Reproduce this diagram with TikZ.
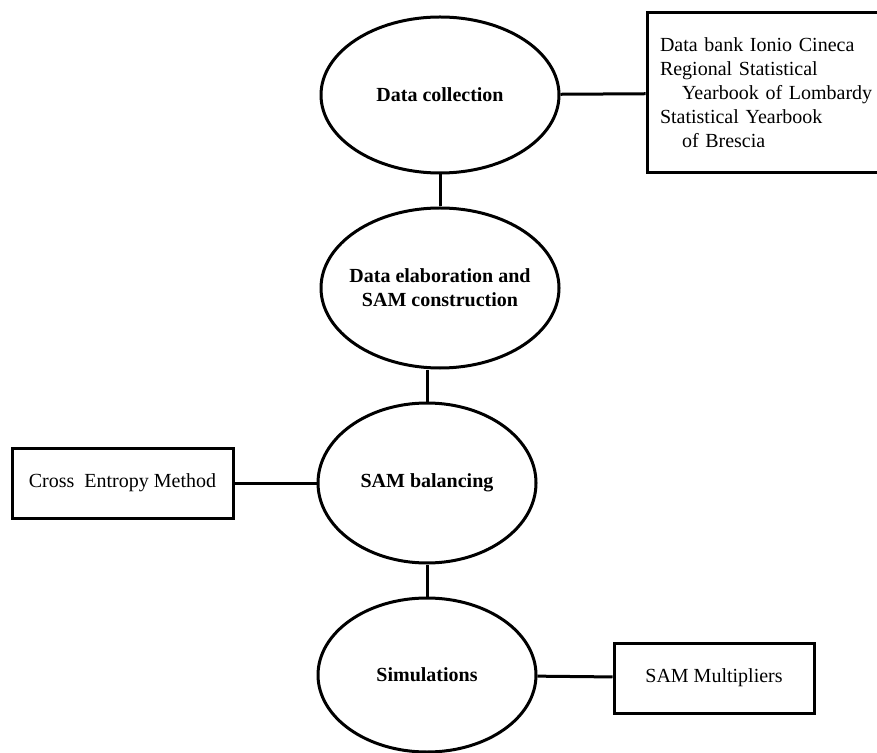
\documentclass[tikz,border=0pt]{standalone}
\usepackage{fontspec}
\setmainfont{Liberation Serif}
\usetikzlibrary{shapes.geometric}

\begin{document}
\begin{tikzpicture}[x=0.5pt, y=-0.5pt, line width=1.5pt,
    stage/.style={draw, ellipse, inner sep=0pt, font=\bfseries, align=center},
    source/.style={draw, rectangle, inner sep=0pt, align=center}]

\useasboundingbox (0,0) rectangle (877,753);

% the four stages
\node[stage, minimum width=119pt, minimum height=78pt] (collect) at (440,95) {Data collection};
\node[stage, minimum width=119pt, minimum height=80pt, inner xsep=-4pt] (elab) at (440,288) {Data elaboration and\\SAM construction};
\node[stage, minimum width=109pt, minimum height=80pt] (balance) at (427,483) {SAM balancing};
\node[stage, minimum width=109pt, minimum height=77pt] (simul) at (427,675) {Simulations};

% side boxes
\node[source, minimum height=80pt, text width=108pt, align=left, inner xsep=6.5pt] (sources) at (768,93)
    {Data bank Ionio Cineca\\Regional Statistical\\\hspace*{11pt}Yearbook of Lombardy\\Statistical Yearbook\\\hspace*{11pt}of Brescia};
\node[source, minimum width=110.5pt, minimum height=35pt] (entropy) at (122.5,483) {Cross\enspace Entropy Method};
\node[source, minimum width=100pt, minimum height=35pt] (mult) at (714,678) {SAM Multipliers};

\draw (collect) -- (sources);
\draw (collect) -- (elab);
\draw (balance) -- (balance |- elab.south);
\draw (balance) -- (entropy);
\draw (balance) -- (simul);
\draw (simul) -- (mult);

\end{tikzpicture}
\end{document}
